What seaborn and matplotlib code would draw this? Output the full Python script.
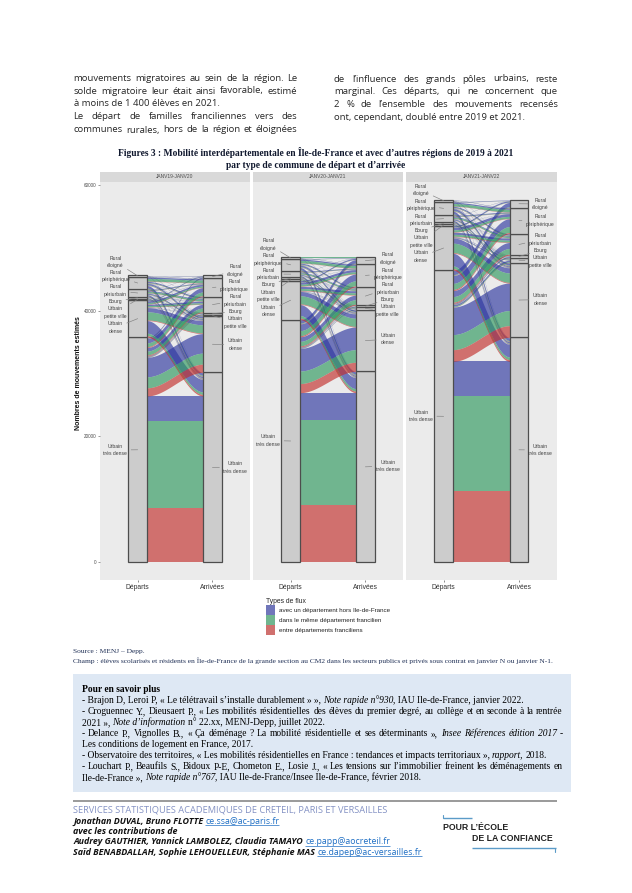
import matplotlib
matplotlib.use("Agg")
import matplotlib.pyplot as plt
from matplotlib.lines import Line2D
from matplotlib.patches import Rectangle, Patch
import numpy as np
import pandas as pd
import seaborn as sns

PERIODS = ["JANV19-JANV20", "JANV20-JANV21", "JANV21-JANV22"]
STRATA = ["Urbain\ntrès dense", "Urbain\ndense", "Urbain\npetite ville", "Bourg",
          "Rural\npériurbain", "Rural\npériphérique", "Rural\néloigné"]
TYPES = ["entre départements franciliens", "dans le même département francilien",
         "avec un département hors Ile-de-France"]
YTICKS = [0, 20000, 40000, 60000]
XLABELS = ["Départs", "Arrivées"]

# rows: departure stratum, columns: arrival stratum (same order as STRATA)
RED_19 = [[8630, 1300, 15, 25, 130, 130, 20], [250, 100, 5, 5, 50, 50, 10], [10, 5, 3, 1, 3, 2, 0],
          [15, 8, 1, 5, 4, 3, 1], [40, 25, 2, 3, 30, 20, 4], [60, 35, 3, 3, 30, 45, 7], [8, 5, 0, 1, 3, 6, 5]]
GREEN_19 = [[13870, 1750, 25, 45, 600, 600, 30], [400, 1300, 10, 10, 210, 200, 30], [15, 15, 35, 3, 7, 4, 1],
            [25, 15, 3, 50, 10, 7, 3], [60, 55, 5, 5, 230, 60, 8], [130, 85, 7, 7, 80, 420, 15], [15, 10, 2, 2, 7, 14, 45]]
BLUE_19 = [[3940, 3105, 60, 80, 580, 695, 140], [2000, 670, 15, 25, 220, 270, 100], [35, 30, 12, 6, 10, 9, 4],
           [60, 37, 6, 15, 26, 20, 6], [200, 140, 13, 12, 130, 100, 28], [400, 210, 20, 20, 160, 215, 48], [37, 25, 3, 2, 20, 40, 20]]

RED_20 = [[9100, 1450, 15, 20, 150, 170, 40], [250, 100, 6, 6, 70, 60, 15], [3, 3, 15, 1, 1, 1, 0],
          [12, 7, 1, 4, 3, 3, 1], [35, 20, 2, 2, 22, 20, 4], [60, 35, 4, 3, 25, 40, 8], [8, 5, 0, 1, 2, 5, 3]]
GREEN_20 = [[13450, 2000, 30, 35, 720, 800, 80], [400, 1300, 12, 12, 300, 280, 35], [7, 7, 100, 2, 3, 2, 1],
            [20, 13, 3, 35, 8, 8, 2], [55, 45, 5, 4, 180, 50, 8], [115, 80, 9, 7, 70, 400, 20], [14, 9, 1, 1, 5, 12, 22]]
BLUE_20 = [[4410, 3600, 75, 75, 730, 1080, 540], [1750, 690, 32, 32, 330, 360, 160], [20, 20, 70, 0, 6, 7, 4],
           [48, 30, 6, 21, 19, 19, 7], [170, 115, 13, 14, 98, 110, 28], [385, 235, 27, 20, 155, 200, 62], [38, 26, 4, 3, 13, 33, 15]]

RED_21 = [[11300, 1850, 30, 25, 170, 180, 45], [270, 110, 14, 7, 70, 60, 15], [2, 2, 10, 1, 2, 1, 0],
          [14, 10, 2, 5, 4, 3, 1], [35, 25, 3, 2, 25, 20, 4], [60, 40, 5, 3, 30, 40, 8], [10, 7, 1, 1, 3, 6, 4]]
GREEN_21 = [[15140, 2400, 120, 50, 900, 950, 100], [420, 1500, 40, 15, 300, 320, 40], [5, 5, 80, 2, 5, 4, 1],
            [22, 15, 5, 40, 8, 6, 1], [60, 50, 7, 5, 200, 55, 8], [120, 95, 12, 7, 75, 410, 22], [17, 14, 3, 1, 7, 15, 28]]
BLUE_21 = [[5515, 4375, 250, 125, 960, 1245, 690], [2010, 825, 96, 38, 330, 430, 180], [13, 13, 50, 2, 8, 10, 4],
           [64, 45, 13, 20, 23, 16, 3], [205, 145, 20, 13, 125, 125, 28], [420, 285, 33, 20, 165, 190, 70], [63, 49, 6, 3, 20, 44, 18]]

FLOWS = [[RED_19, GREEN_19, BLUE_19], [RED_20, GREEN_20, BLUE_20], [RED_21, GREEN_21, BLUE_21]]

# label centres in page pixels, in STRATA order
LABELS_LEFT = [
    [(115.3, 450), (115.3, 327.7), (115.3, 312.7), (115.3, 301.7), (115.3, 290.7), (116, 276), (115.3, 261.7)],
    [(268.3, 440.5), (268.3, 311), (268.3, 295.7), (268.3, 284.7), (268.3, 274), (268.3, 259.3), (268.3, 244.3)],
    [(421, 416), (421, 256.7), (421, 241.3), (421, 230.3), (421, 220), (421, 205), (421, 190.3)],
]
LABELS_RIGHT = [
    [(235.3, 467.3), (235.3, 344.7), (235.3, 322.7), (235.3, 311.7), (235.3, 300.7), (234.3, 285.7), (235.3, 270.7)],
    [(387.7, 466), (387.7, 339.3), (387.7, 310.7), (387.7, 299.3), (387.7, 288.7), (387.7, 273.7), (387.7, 258.7)],
    [(540.3, 450), (540.3, 299.7), (540.3, 261.3), (540.3, 250.3), (540.3, 239.7), (540.3, 220.7), (540.3, 204)],
]

COLORS = {TYPES[0]: "#C22E2B", TYPES[1]: "#2E985E", TYPES[2]: "#2E37A0"}
SWATCH = {TYPES[0]: "#D0706E", TYPES[1]: "#70B58F", TYPES[2]: "#7076BA"}
W, H = 632, 893
SANS = "Liberation Sans"
SERIF = "Liberation Serif"
BODY = "Open Sans"

sns.set_theme(style="white", rc={"font.family": SANS})

rows = []
for p, period in enumerate(PERIODS):
    for t, typ in enumerate(TYPES):
        for i, dep in enumerate(STRATA):
            for j, arr in enumerate(STRATA):
                rows.append((period, p, i, j, t, typ, FLOWS[p][t][i][j]))
df = pd.DataFrame(rows, columns=["periode", "p", "dep", "arr", "t", "type", "n"])

BAR = 0.125
tt = np.linspace(0, 1, 60)
xs = 1 + BAR + (1 - 2 * BAR) * tt
ss = tt * tt * (3 - 2 * tt)


def fx(x):
    return x / W


def fy(y):
    return 1 - y / H


def draw_alluvial(data, **kws):
    ax = plt.gca()
    ax.set_facecolor("#EBEBEB")
    d = data.copy()
    left = d.sort_values(["dep", "arr", "t"])
    lo = left["n"].cumsum() - left["n"]
    d.loc[left.index, "l0"] = lo
    d["l1"] = d["l0"] + d["n"]
    right = d.sort_values(["arr", "dep", "t"])
    ro = right["n"].cumsum() - right["n"]
    d.loc[right.index, "r0"] = ro
    d["r1"] = d["r0"] + d["n"]
    for t in [2, 1, 0]:
        for row in d[(d["t"] == t) & (d["n"] > 0)].itertuples():
            ax.fill_between(xs, row.l0 + (row.r0 - row.l0) * ss, row.l1 + (row.r1 - row.l1) * ss,
                            color=COLORS[row.type], alpha=0.65, lw=0, zorder=2)
    p = int(d["p"].iloc[0])
    for xc, col, labels in [(1, "dep", LABELS_LEFT[p]), (2, "arr", LABELS_RIGHT[p])]:
        totals = d.groupby(col)["n"].sum().reindex(range(len(STRATA)))
        base = 0
        for k, v in enumerate(totals):
            ax.add_patch(Rectangle((xc - BAR, base), 2 * BAR, v, facecolor="#CCCCCC",
                                   edgecolor="#4D4D4D", lw=0.9, zorder=3))
            lx, ly = labels[k]
            ax.annotate(STRATA[k], xy=(xc, base + v / 2), xycoords="data",
                        xytext=(fx(lx), fy(ly)), textcoords="figure fraction",
                        ha="center", va="center", fontsize=3.6, color="#404040",
                        linespacing=1.6, zorder=5, annotation_clip=False,
                        arrowprops=dict(arrowstyle="-", color="#808080", lw=0.45,
                                        shrinkA=0.5, shrinkB=0))
            base += v
    ax.set_xlim(0.5, 2.5)
    ax.set_ylim(-2815, 60460)
    ax.set_xticks([1, 2])
    ax.set_xticklabels(XLABELS)
    ax.set_yticks(YTICKS)
    ax.grid(False)
    for s in ax.spines.values():
        s.set_visible(False)


g = sns.FacetGrid(df, col="periode", col_order=PERIODS, sharey=True, despine=False)
g.map_dataframe(draw_alluvial)
fig = g.figure
fig.set_size_inches(W / 100, H / 100)
fig.set_dpi(100)
g.set_titles("")
g.set_axis_labels("", "")

PANEL_X = [(100.3, 249.8), (253.3, 402.7), (406, 556.6)]
for ax, (x0, x1), period in zip(g.axes.flat, PANEL_X, PERIODS):
    ax.set_position([fx(x0), fy(580), (x1 - x0) / W, (580 - 182) / H])
    ax.tick_params(axis="x", labelsize=4.9, colors="#333333", length=1.5, width=0.4, pad=1.6, bottom=True)
    ax.tick_params(axis="y", labelsize=3.3, colors="#4D4D4D", length=1.5, width=0.4, pad=1.2, left=ax is g.axes.flat[0])
    fig.add_artist(Rectangle((fx(x0), fy(182)), (x1 - x0) / W, 10 / H, transform=fig.transFigure,
                             facecolor="#D9D9D9", edgecolor="none"))
    fig.text(fx((x0 + x1) / 2), fy(177), period, ha="center", va="center", fontsize=3.5, color="#4D4D4D")

fig.text(fx(79), fy(373), "Nombres de mouvements estimés", rotation=90, ha="center", va="center",
         fontsize=5.0, fontweight="bold", color="#111111")

handles = [Patch(facecolor=SWATCH[t], edgecolor="none") for t in reversed(TYPES)]
leg = fig.legend(handles, list(reversed(TYPES)), title="Types de flux", loc="upper left",
                 bbox_to_anchor=(fx(265.8), fy(598)), bbox_transform=fig.transFigure, frameon=False,
                 fontsize=4.5, title_fontsize=4.9, handlelength=1.45, handleheight=2.0, handletextpad=0.6,
                 labelspacing=0.04, borderpad=0, borderaxespad=0)
leg._legend_box.align = "left"
for t in leg.get_texts():
    t.set_color("#222222")

renderer = fig.canvas.get_renderer()


def natural(text, size, family, style="normal", weight="normal"):
    a = fig.text(0, 0, text, fontsize=size, family=family, style=style, weight=weight)
    w = a.get_window_extent(renderer).width
    a.remove()
    return w


def fit(text, target, family, style="normal", weight="normal"):
    return 10 * target / natural(text, 10, family, style, weight)


def seg_line(x, y, segs, size, family, color="black", width=None):
    """Styled pieces from left pixel x on baseline y; width spreads words to justify."""
    def props(style):
        kw = dict(fontsize=size, family=family, color=color, va="baseline", ha="left")
        if "i" in style:
            kw["style"] = "italic"
        if "b" in style:
            kw["weight"] = "bold"
        return kw

    if width is None:
        cx = x
        for text, style in segs:
            lead = len(text) - len(text.lstrip(" "))
            trail = len(text) - len(text.rstrip(" "))
            sp = size * 100 / 72 * 0.25
            cx += lead * sp
            a = fig.text(fx(cx), fy(y), text.strip(" "), **props(style))
            cx += a.get_window_extent(renderer).width + trail * sp
        return cx
    pieces = [(w, style) for text, style in segs for w in text.split(" ") if w]
    arts = [fig.text(fx(x), fy(y), w, **props(style)) for w, style in pieces]
    widths = [a.get_window_extent(renderer).width for a in arts]
    gap = (width - sum(widths)) / (len(arts) - 1)
    cx = x
    for a, wd in zip(arts, widths):
        a.set_position((fx(cx), fy(y)))
        cx += wd + gap
    return cx - gap


def hline(x0, x1, y, color, lw):
    fig.add_artist(Line2D([fx(x0), fx(x1)], [fy(y), fy(y)], transform=fig.transFigure, color=color, lw=lw,
                          solid_capstyle="butt"))


# page text above the chart
BODY_SIZE = fit("ont, cependant, doublé entre 2019 et 2021.", 190, BODY)
BODY_COLOR = "#262626"
left_col = [("mouvements migratoires au sein de la région. Le", 224),
            ("solde migratoire leur était ainsi favorable, estimé", 224),
            ("à moins de 1 400 élèves en 2021.", None),
            ("Le départ de familles franciliennes vers des", 224),
            ("communes rurales, hors de la région et éloignées", 224)]
for (txt, wd), yy in zip(left_col, [81, 93.5, 106, 119.3, 132.5]):
    seg_line(73.5, yy, [(txt, "")], BODY_SIZE, BODY, BODY_COLOR, wd)
right_col = [("de l’influence des grands pôles urbains, reste", 224),
             ("marginal. Ces départs, qui ne concernent que", 224),
             ("2 % de l’ensemble des mouvements recensés", 224),
             ("ont, cependant, doublé entre 2019 et 2021.", None)]
for (txt, wd), yy in zip(right_col, [81.5, 94, 106.8, 119.8]):
    seg_line(334, yy, [(txt, "")], BODY_SIZE, BODY, BODY_COLOR, wd)

# figure title
TITLE = "Figures 3 : Mobilité interdépartementale en Île-de-France et avec d’autres régions de 2019 à 2021"
TITLE_SIZE = fit(TITLE, 398, SERIF, weight="bold")
fig.text(fx(316), fy(156.3), TITLE, ha="center", va="baseline", family=SERIF, weight="bold",
         fontsize=TITLE_SIZE, color="#10182E")
fig.text(fx(316), fy(168.5), "par type de commune de départ et d’arrivée", ha="center", va="baseline",
         family=SERIF, weight="bold", fontsize=TITLE_SIZE, color="#10182E")

# source
CHAMP = "Champ : élèves scolarisés et résidents en Île-de-France de la grande section au CM2 dans les secteurs publics et privés sous contrat en janvier N ou janvier N-1."
SRC_SIZE = fit(CHAMP, 477, SERIF)
seg_line(73.3, 653.3, [("Source : MENJ – Depp.", "")], SRC_SIZE, SERIF, "#1F2F55")
seg_line(73.3, 662.8, [(CHAMP, "")], SRC_SIZE, SERIF, "#1F2F55")

# box
fig.add_artist(Rectangle((fx(73.3), fy(792)), (571 - 73.3) / W, 118 / H, transform=fig.transFigure,
                         facecolor="#DEE8F4", edgecolor="none"))
BOX = [
    ([("Pour en savoir plus", "b")], None),
    ([("- Brajon D, Leroi P, « Le télétravail s’installe durablement » », ", ""), ("Note rapide n°930", "i"), (", IAU Ile-de-France, janvier 2022.", "")], None),
    ([("- Croguennec Y., Dieusaert P., « Les mobilités résidentielles des élèves du premier degré, au collège et en seconde à la rentrée", "")], 481),
    ([("2021 », ", ""), ("Note d’information", "i"), (" n° 22.xx, MENJ-Depp, juillet 2022.", "")], None),
    ([("- Delance P., Vignolles B., « Ça déménage ? La mobilité résidentielle et ses déterminants », ", ""), ("Insee Références édition 2017", "i"), (" -", "")], 481),
    ([("Les conditions de logement en France, 2017.", "")], None),
    ([("- Observatoire des territoires, « Les mobilités résidentielles en France : tendances et impacts territoriaux », ", ""), ("rapport,", "i"), (" 2018.", "")], None),
    ([("- Louchart P., Beaufils S., Bidoux P-E, Chometon E., Losie J., « Les tensions sur l’immobilier freinent les déménagements en", "")], 481),
    ([("Ile-de-France », ", ""), ("Note rapide n°767", "i"), (", IAU Ile-de-France/Insee Ile-de-France, février 2018.", "")], None),
]
for k, (segs, wd) in enumerate(BOX):
    seg_line(81.7, 692 + 11 * k, segs, 6.85, SERIF, "black", wd)

# footer
hline(73, 557, 800.7, "#7F7F7F", 1.1)
SERV = "SERVICES STATISTIQUES ACADEMIQUES DE CRETEIL, PARIS ET VERSAILLES"
seg_line(73.3, 813, [(SERV, "")], fit(SERV, 315, BODY), BODY, "#8492C4")
FOOT = [
    ("Jonathan DUVAL, Bruno FLOTTE", "ce.ssa@ac-paris.fr", 824),
    ("avec les contributions de", None, 834.3),
    ("Audrey GAUTHIER, Yannick LAMBOLEZ, Claudia TAMAYO", "ce.papp@aocreteil.fr", 844.5),
    ("Saïd BENABDALLAH, Sophie LEHOUELLEUR, Stéphanie MAS", "ce.dapep@ac-versailles.fr", 855),
]
NAME_SIZE = fit(FOOT[0][0], 131, BODY, "italic", "bold")
MAIL_SIZE = fit(FOOT[0][1], 73, BODY)
for names, mail, yy in FOOT:
    end = seg_line(73.3, yy, [(names, "ib")], NAME_SIZE, BODY, "#111111")
    if mail:
        e2 = seg_line(end + 2, yy, [(mail, "")], MAIL_SIZE, BODY, "#1F6FC4")
        hline(end + 2, e2, yy + 1.2, "#1F6FC4", 0.5)

# logo
seg_line(443, 829.5, [("POUR L’ÉCOLE", "b")], 6.3, SANS, "#222222")
seg_line(471.7, 841, [("DE LA CONFIANCE", "b")], 6.3, SANS, "#222222")
hline(443, 471.7, 818, "#5B9BC8", 1.0)
hline(471.7, 555.7, 847.7, "#5B9BC8", 1.0)
fig.add_artist(Line2D([fx(443.3), fx(443.3)], [fy(815), fy(818)], transform=fig.transFigure, color="#5B9BC8", lw=0.8))
fig.add_artist(Line2D([fx(555.4), fx(555.4)], [fy(847.7), fy(851.5)], transform=fig.transFigure, color="#5B9BC8", lw=0.8))

fig.savefig("out.png", dpi=100, facecolor="white")
